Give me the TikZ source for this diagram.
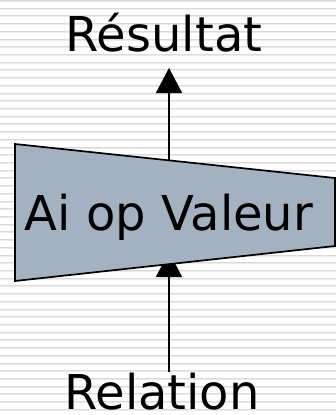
\documentclass[tikz,border=0pt]{standalone}
\usepackage{fontspec}
\setmainfont{DejaVu Sans}
\usetikzlibrary{arrows.meta}
\definecolor{boxfill}{RGB}{163,177,193}
\definecolor{stripeA}{RGB}{218,218,218}
\definecolor{stripeB}{RGB}{235,235,235}
\tikzset{
  stripeone/.style={draw=stripeA, line width=1pt},
  stripetwo/.style={draw=stripeB, line width=1pt},
  conn/.style={draw=black, line width=1.7pt, -{Triangle[width=26pt,length=25pt]}},
  trap/.style={fill=boxfill, draw=black, line width=1.7pt, line join=miter},
  lbl/.style={font=\fontsize{48}{56}\selectfont, inner sep=0pt, anchor=base, text=black}
}
\begin{document}
\begin{tikzpicture}[x=1pt,y=-1pt]
\useasboundingbox (0,0) rectangle (336,415);
\fill[white] (0,0) rectangle (336,415);
\begin{scope}
\clip (0,0) rectangle (336,415);
\foreach \k in {0,...,54} {
  \draw[stripeone] (0,7.714*\k+0.5) -- (336,7.714*\k+0.5);
  \draw[stripetwo] (0,7.714*\k+1.5) -- (336,7.714*\k+1.5);
}
\end{scope}
% coordinates
\coordinate (tl) at (15,144);
\coordinate (tr) at (335,178);
\coordinate (br) at (335,246);
\coordinate (bl) at (15,281);
\coordinate (topstart) at (169,160.4);
\coordinate (toptip) at (169,68);
\coordinate (botstart) at (169,372);
\coordinate (bottip) at (169,252);
% bottom arrow, partly hidden by the box
\draw[conn] (botstart) -- (bottip);
% box
\path[trap] (tl) -- (tr) -- (br) -- (bl) -- cycle;
\node[lbl] (op) at (169,230) {Ai op Valeur};
% top arrow
\draw[conn] (topstart) -- (toptip);
\node[lbl] (res) at (164,51) {Résultat};
\node[lbl] (rel) at (162,409) {Relation};
\end{tikzpicture}
\end{document}
